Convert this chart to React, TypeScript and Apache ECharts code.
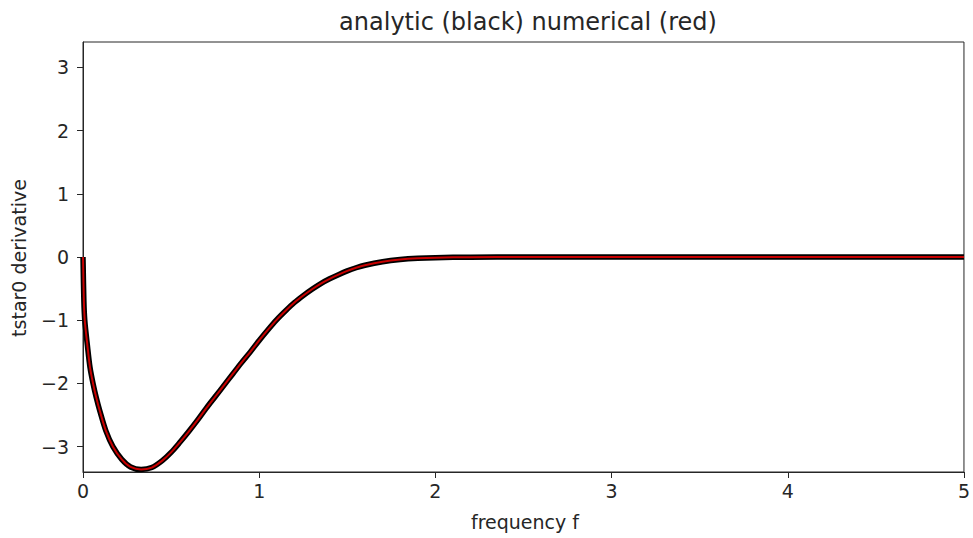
import React, { useEffect, useRef } from "react";
import * as echarts from "echarts";

const freq = [
  0, 0.005, 0.01, 0.025, 0.04, 0.057, 0.075, 0.096, 0.13, 0.17, 0.22, 0.27, 0.33, 0.39, 0.45,
  0.5, 0.55, 0.6, 0.65, 0.7, 0.75, 0.8, 0.85, 0.9, 0.95, 1.0, 1.05, 1.1, 1.15, 1.2, 1.25,
  1.3, 1.35, 1.4, 1.45, 1.5, 1.55, 1.6, 1.7, 1.8, 1.9, 2.0, 2.2, 2.5, 3.0, 3.5, 4.0, 4.5, 5.0,
];
const analytic = [
  0, -0.7, -1.0, -1.4, -1.75, -2.0, -2.22, -2.44, -2.75, -3.0, -3.2, -3.32, -3.36, -3.33, -3.22,
  -3.09, -2.93, -2.76, -2.58, -2.39, -2.21, -2.03, -1.85, -1.67, -1.5, -1.32, -1.15, -0.99, -0.85, -0.72, -0.61,
  -0.51, -0.42, -0.345, -0.28, -0.22, -0.17, -0.13, -0.075, -0.04, -0.02, -0.01, -0.003, 0, 0, 0, 0, 0, 0,
];
const numerical = [
  0, -0.7, -1.0, -1.4, -1.75, -2.0, -2.22, -2.44, -2.75, -3.0, -3.2, -3.32, -3.36, -3.33, -3.22,
  -3.09, -2.93, -2.76, -2.58, -2.39, -2.21, -2.03, -1.85, -1.67, -1.5, -1.32, -1.15, -0.99, -0.85, -0.72, -0.61,
  -0.51, -0.42, -0.345, -0.28, -0.22, -0.17, -0.13, -0.075, -0.04, -0.02, -0.01, -0.003, 0, 0, 0, 0, 0, 0,
];
const xTicks = [0, 1, 2, 3, 4, 5];
const yTicks = [-3, -2, -1, 0, 1, 2, 3];

const TITLE = "analytic (black) numerical (red)";
const XLABEL = "frequency f";
const YLABEL = "tstar0 derivative";

const FONT = "DejaVu Sans";
const TXT = "#262626";

const fmt = (v: number) => (v < 0 ? "\u2212" + Math.abs(v) : String(v));

export default function App() {
  const ref = useRef<HTMLDivElement>(null);
  useEffect(() => {
    if (!ref.current) return;
    const chart = echarts.init(ref.current, null, { renderer: "svg" });
    const left = 83, right = 6, top = 42, bottom = 66;
    chart.setOption({
      animation: false,
      backgroundColor: "#ffffff",
      title: {
        text: TITLE,
        left: 523,
        top: 5,
        textAlign: "center",
        textStyle: { fontFamily: FONT, fontSize: 24, fontWeight: "normal", color: TXT },
      },
      grid: {
        left, right, top, bottom,
        show: true,
        borderColor: "#262626",
        borderWidth: 1,
        backgroundColor: "transparent",
      },
      xAxis: {
        type: "value",
        min: 0,
        max: 5,
        interval: 1,
        axisLine: { show: true, onZero: false, lineStyle: { color: "#262626", width: 1 } },
        axisTick: { show: true, inside: false, length: 6, lineStyle: { color: "#262626" } },
        axisLabel: {
          show: true,
          margin: 9,
          fontFamily: FONT,
          fontSize: 19,
          color: TXT,
          formatter: (v: number) => fmt(v),
          customValues: xTicks,
        },
        splitLine: { show: false },
      },
      yAxis: {
        type: "value",
        min: -3.4,
        max: 3.4,
        axisLine: { show: true, onZero: false, lineStyle: { color: "#262626", width: 1 } },
        axisTick: { show: true, inside: false, length: 6, lineStyle: { color: "#262626" }, customValues: yTicks },
        axisLabel: {
          show: true,
          margin: 14,
          fontFamily: FONT,
          fontSize: 19,
          color: TXT,
          formatter: (v: number) => fmt(v),
          customValues: yTicks,
        },
        splitLine: { show: false },
      },
      graphic: [
        {
          type: "text",
          x: 525,
          y: 522,
          style: {
            text: XLABEL,
            align: "center",
            verticalAlign: "middle",
            font: `19px "${FONT}"`,
            fill: TXT,
          },
        },
        {
          type: "text",
          x: 19,
          y: 258,
          rotation: Math.PI / 2,
          style: {
            text: YLABEL,
            align: "center",
            verticalAlign: "middle",
            font: `19px "${FONT}"`,
            fill: TXT,
          },
        },
      ],
      series: [
        {
          type: "line",
          data: freq.map((f, i) => [f, analytic[i]]),
          showSymbol: false,
          smooth: 0.3,
          clip: true,
          lineStyle: { color: "#000000", width: 5.5, join: "round", cap: "butt" },
          z: 2,
        },
        {
          type: "line",
          data: freq.map((f, i) => [f, numerical[i]]),
          showSymbol: false,
          smooth: 0.3,
          clip: true,
          lineStyle: { color: "#c80000", width: 2, join: "round", cap: "butt" },
          z: 3,
        },
      ],
    });
    return () => chart.dispose();
  }, []);
  return (
    <div
      ref={ref}
      style={{ position: "fixed", left: 0, top: 0, width: 973, height: 538, background: "#fff" }}
    />
  );
}
